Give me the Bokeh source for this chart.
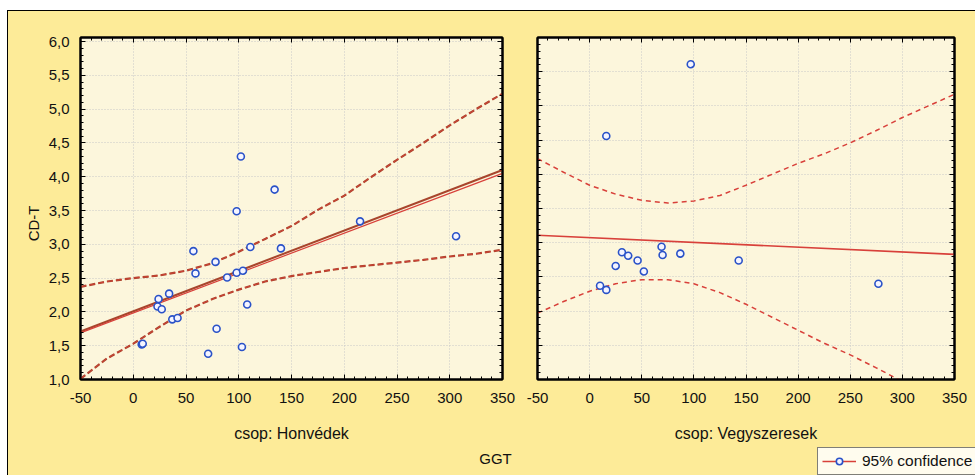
import math
from bokeh.plotting import figure
from bokeh.layouts import row, column
from bokeh.models import (Range1d, LinearAxis, SingleIntervalTicker, CustomJSTickFormatter,
                          Label, Legend, LegendItem)
from bokeh.embed import file_html
from bokeh.resources import INLINE

# ---------------- data ----------------
honved_ggt = [102, 134, 98, 215, 306, 57, 111, 140, 78, 59, 89, 98, 104, 34, 24, 23, 27, 37, 42,
              108, 79, 8, 9, 71, 103]
honved_cdt = [4.30, 3.81, 3.49, 3.34, 3.12, 2.90, 2.96, 2.94, 2.74, 2.57, 2.51, 2.58, 2.61, 2.27,
              2.19, 2.08, 2.04, 1.89, 1.91, 2.11, 1.75, 1.52, 1.53, 1.38, 1.48]

vegy_ggt = [97, 16, 69, 70, 87, 31, 37, 46, 25, 52, 143, 10, 16, 277]
vegy_cdt = [5.61, 4.56, 2.94, 2.82, 2.84, 2.86, 2.81, 2.74, 2.66, 2.58, 2.74, 2.37, 2.31, 2.40]

fit_x = [-50, 350]
honved_fit_a = [1.71, 4.10]
honved_fit_b = [1.69, 4.05]
vegy_fit = [3.11, 2.83]

band_x = [-50, -25, 0, 25, 50, 75, 100, 125, 150, 175, 200, 225, 250, 275, 300, 325, 350]
honved_upper = [2.37, 2.45, 2.50, 2.54, 2.61, 2.72, 2.89, 3.08, 3.27, 3.51, 3.72, 3.99, 4.25, 4.50,
                4.76, 5.00, 5.23]
honved_lower = [1.01, 1.31, 1.53, 1.78, 2.02, 2.19, 2.33, 2.45, 2.53, 2.59, 2.65, 2.69, 2.73, 2.77,
                2.82, 2.86, 2.92]
vegy_upper = [4.23, 4.03, 3.84, 3.71, 3.62, 3.58, 3.61, 3.69, 3.84, 4.00, 4.16, 4.30, 4.46, 4.64,
              4.83, 5.00, 5.17]
vegy_lower = [1.97, 2.14, 2.29, 2.40, 2.46, 2.46, 2.40, 2.27, 2.10, 1.91, 1.72, 1.53, 1.36, 1.17,
              0.97, 0.80, 0.63]

panel_titles = ["csop: Honvédek", "csop: Vegyszeresek"]
x_title = "GGT"
y_title = "CD-T"
legend_text = "95% confidence"

# ---------------- style ----------------
FONT = "Liberation Sans"
OUTER = "#fdeb98"
INNER = "#fcf6dc"
BROWN = "#a8452c"
RED = "#d8403a"
BLUE = "#2a52c8"
TXT = "#111111"


def style_axis(ax, labels=True):
    ax.axis_line_color = "black"
    ax.axis_line_width = 2
    ax.major_tick_in = 5
    ax.major_tick_out = 0
    ax.minor_tick_in = 3
    ax.minor_tick_out = 0
    ax.major_tick_line_color = "black"
    ax.minor_tick_line_color = "black"
    ax.major_label_text_font = FONT
    ax.axis_label_text_font = FONT
    ax.axis_label_text_font_size = "16px"
    ax.axis_label_text_font_style = "normal"
    ax.axis_label_text_color = TXT
    if labels:
        ax.major_label_text_font_size = "15px"
        ax.major_label_text_color = TXT
    else:
        ax.major_label_text_font_size = "1px"
        ax.major_label_text_color = None
        ax.major_label_standoff = 0


def make_fig(width, height, ymax, bl, br, bt, bb, ylabels, xlabel):
    p = figure(width=width, height=height, x_range=Range1d(-50, 350), y_range=Range1d(1.0, ymax),
               output_backend="svg", toolbar_location=None,
               min_border_left=bl, min_border_right=br, min_border_top=bt, min_border_bottom=bb)
    p.background_fill_color = INNER
    p.border_fill_color = OUTER
    p.outline_line_color = "black"
    p.outline_line_width = 2
    xt = SingleIntervalTicker(interval=50, num_minor_ticks=5)
    yt = SingleIntervalTicker(interval=0.5, num_minor_ticks=5)
    p.xaxis.ticker = xt
    p.yaxis.ticker = yt
    p.xgrid.ticker = xt
    p.ygrid.ticker = yt
    p.xaxis.formatter = CustomJSTickFormatter(code="return tick.toFixed(0);")
    p.yaxis.formatter = CustomJSTickFormatter(code="return tick.toFixed(1).replace('.', ',');")
    for ax in p.xaxis:
        style_axis(ax, True)
        ax.major_label_standoff = 13
        ax.axis_label = xlabel
        ax.axis_label_standoff = 19
    for ax in p.yaxis:
        style_axis(ax, ylabels)
        if ylabels:
            ax.major_label_standoff = 11
    top = LinearAxis(ticker=xt)
    style_axis(top, False)
    p.add_layout(top, "above")
    right = LinearAxis(ticker=yt)
    style_axis(right, False)
    p.add_layout(right, "right")
    for g in (p.xgrid, p.ygrid):
        g.grid_line_color = "#c9c9c9"
        g.grid_line_dash = "1 2"
        g.grid_line_width = 1
    return p


def strip_fig(width, height):
    s = figure(width=width, height=height, x_range=Range1d(0, width), y_range=Range1d(0, height),
               output_backend="svg", toolbar_location=None, min_border=0,
               x_axis_location=None, y_axis_location=None)
    s.background_fill_color = OUTER
    s.border_fill_color = OUTER
    s.outline_line_color = None
    s.grid.visible = False
    return s


PANEL_H = 436

# left strip holding the y title (1 data unit = 1 px)
ystrip = strip_fig(36, PANEL_H)
ystrip.add_layout(Label(x=25, y=PANEL_H - 237, text=y_title, angle=math.pi / 2,
                        text_align="center", text_baseline="middle",
                        text_font=FONT, text_font_size="15px", text_color=TXT))

# left panel
p1 = make_fig(475, PANEL_H, 6.06, 36, 17, 22, 68, True, panel_titles[0])
p1.line(band_x, honved_upper, line_color=BROWN, line_width=2.2, line_dash="6 3")
p1.line(band_x, honved_upper, line_color=RED, line_width=0.8, line_dash="6 3")
p1.line(band_x, honved_lower, line_color=BROWN, line_width=2.2, line_dash="6 3")
p1.line(band_x, honved_lower, line_color=RED, line_width=0.8, line_dash="6 3")
p1.line(fit_x, honved_fit_a, line_color=BROWN, line_width=2)
p1.line(fit_x, honved_fit_b, line_color=RED, line_width=1.2)
p1.scatter(honved_ggt, honved_cdt, marker="circle", size=7, line_color=BLUE, line_width=1.6,
           fill_color="#f4f4ff")

# right panel
p2 = make_fig(456, PANEL_H, 6.0, 18, 21, 26, 68, False, panel_titles[1])
p2.line(band_x, vegy_upper, line_color=RED, line_width=1.5, line_dash="5 4")
p2.line(band_x, vegy_lower, line_color=RED, line_width=1.5, line_dash="5 4")
p2.line(fit_x, vegy_fit, line_color=RED, line_width=1.6)
p2.scatter(vegy_ggt, vegy_cdt, marker="circle", size=7, line_color=BLUE, line_width=1.6,
           fill_color="#f4f4ff")

# bottom strip: shared x title and legend (1 data unit = 1 px)
strip = strip_fig(967, 28)
strip.extra_y_ranges = {"off": Range1d(100, 101)}   # keeps the key's data out of view
strip.add_layout(Label(x=487, y=17, text=x_title, text_align="center", text_baseline="middle",
                       text_font=FONT, text_font_size="15px", text_color=TXT))
key_line = strip.line(x=fit_x, y=vegy_fit, y_range_name="off", line_color=RED, line_width=1.6)
key_pt = strip.scatter(x=vegy_ggt, y=vegy_cdt, y_range_name="off", marker="circle", size=7,
                       line_color=BLUE, line_width=1.6, fill_color="#f4f4ff")
legend = Legend(items=[LegendItem(label=legend_text, renderers=[key_line, key_pt])],
                location=(809, 0), orientation="vertical",
                border_line_color="black", border_line_width=1,
                background_fill_color="#fffcee", background_fill_alpha=1.0,
                label_text_font=FONT, label_text_font_size="15.5px", label_text_color=TXT,
                glyph_width=34, glyph_height=16, label_height=16, label_width=140,
                padding=4, margin=0, spacing=0, label_standoff=6)
strip.add_layout(legend, "center")

layout = column(row(ystrip, p1, p2), strip,
                styles={"margin-top": "10px", "margin-left": "7px",
                        "border-top": "1px solid black", "border-left": "1px solid black",
                        "background-color": OUTER})

open("out.html", "w").write(file_html(layout, INLINE))
